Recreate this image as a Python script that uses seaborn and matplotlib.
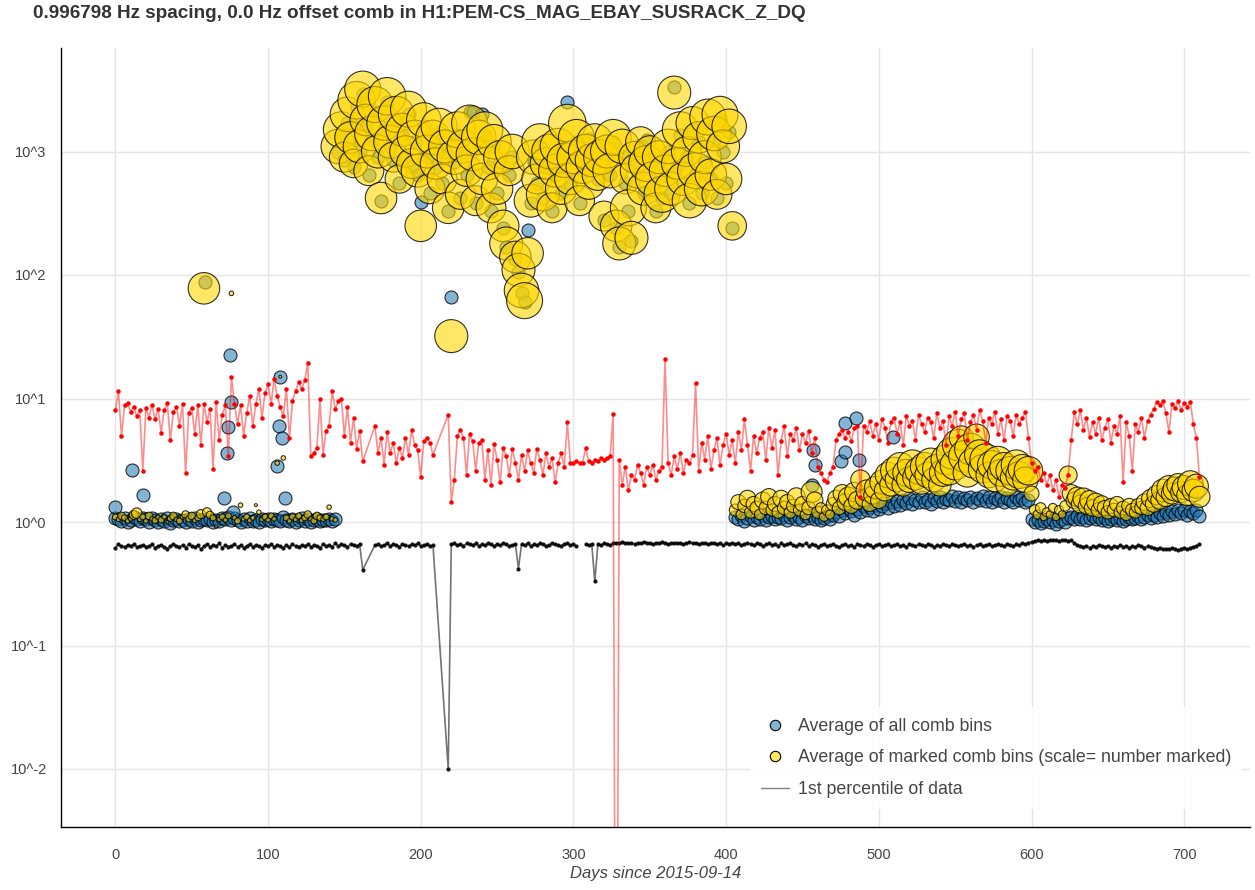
import matplotlib
matplotlib.use("Agg")
import matplotlib.pyplot as plt
import numpy as np
import pandas as pd
import seaborn as sns
from matplotlib.lines import Line2D
from matplotlib.ticker import FixedLocator, FuncFormatter, MultipleLocator
from matplotlib.colors import to_rgba

# ---------------- text ----------------
TITLE = "0.996798 Hz spacing, 0.0 Hz offset comb in H1:PEM-CS_MAG_EBAY_SUSRACK_Z_DQ"
X_LABEL = "Days since 2015-09-14"
LEGEND_LABELS = ["Average of all comb bins",
                 "Average of marked comb bins (scale= number marked)",
                 "1st percentile of data"]
X_TICKS = [0, 100, 200, 300, 400, 500, 600, 700]
Y_TICK_EXPONENTS = [-2, -1, 0, 1, 2, 3]

# ---------------- comb data (one point every 2 days) ----------------
comb_days = list(range(0, 712, 2))

blue_vals = [
    # days 0-144
    1.08, 1.05, 1.02, 1.08, 1.00, 1.04, 1.10, 1.06, 1.02, 1.07,
    1.05, 1.00, 1.07, 1.03, 1.00, 1.05, 1.02, 1.08, 0.99, 1.04,
    1.06, 1.01, 1.03, 1.00, 1.05, 1.02, 1.07, 1.00, 1.04, 1.06,
    1.03, 1.06, 1.00, 1.04, 1.02, 1.08, 1.05, 1.10, 1.04, 1.08,
    1.03, 1.00, 1.05, 1.02, 1.07, 1.01, 1.04, 1.00, 1.06, 1.03,
    1.05, 1.01, 1.06, 1.04, 1.02, 1.09, 1.04, 1.02, 1.06, 1.00,
    1.04, 1.07, 1.02, 1.05, 1.00, 1.04, 1.06, 1.01, 1.04, 1.03,
    1.05, 1.02, 1.06,
    # days 146-404
    1000, 1300, 850, 1700, 1200, 750, 2300, 1000, 2900, 1600,
    650, 1250, 2100, 900, 400, 1500, 2500, 1100, 850, 1800,
    560, 1350, 900, 2000, 750, 1200, 650, 390, 1600, 900,
    460, 1200, 750, 1450, 560, 1000, 330, 66, 820, 1350,
    420, 1000, 650, 2100, 2100, 380, 1200, 2000, 1350, 750,
    330, 1100, 460, 820, 240, 170, 650, 900, 135, 105,
    72, 60, 230, 380, 820, 560, 1100, 420, 750, 900,
    330, 650, 1000, 460, 780, 2500, 560, 820, 1200, 380,
    700, 900, 1260, 780, 1100, 600, 820, 280, 900, 650,
    1200, 240, 170, 1000, 560, 330, 190, 820, 650, 1100,
    460, 1250, 900, 560, 330, 820, 420, 650, 1000, 460,
    3300, 750, 1350, 560, 900, 380, 1500, 650, 1200, 460,
    820, 1700, 600, 1250, 420, 1800, 1000, 560, 1450, 240,
    # days 406-710
    1.10, 1.05, 1.15, 1.02, 1.08, 1.12, 1.04, 1.10, 1.06, 1.14,
    1.03, 1.09, 1.12, 1.05, 1.10, 1.07, 1.13, 1.04, 1.09, 1.15,
    1.06, 1.10, 1.03, 1.12, 1.08, 1.14, 1.05, 1.10, 1.04, 1.08,
    1.12, 1.06, 1.15, 1.20, 1.12, 1.25, 1.18, 1.30, 1.22, 1.15,
    1.28, 1.20, 1.35, 1.25, 1.32, 1.22, 1.38, 1.28, 1.35, 1.42,
    1.30, 1.45, 1.36, 1.48, 1.38, 1.52, 1.42, 1.55, 1.40, 1.50,
    1.44, 1.58, 1.46, 1.52, 1.40, 1.56, 1.48, 1.60, 1.45, 1.54,
    1.50, 1.62, 1.48, 1.58, 1.44, 1.55, 1.50, 1.60, 1.46, 1.56,
    1.52, 1.62, 1.48, 1.58, 1.45, 1.55, 1.50, 1.60, 1.46, 1.56,
    1.52, 1.44, 1.58, 1.50, 1.55, 1.46, 1.52, 1.05, 1.00, 1.04,
    0.98, 1.02, 1.06, 1.00, 1.03, 0.97, 1.02, 1.05, 1.00, 1.08,
    1.10, 1.05, 1.12, 1.06, 1.10, 1.04, 1.08, 1.12, 1.06, 1.10,
    1.04, 1.08, 1.02, 1.06, 1.10, 1.04, 1.08, 1.02, 1.06, 1.10,
    1.05, 1.08, 1.12, 1.06, 1.10, 1.14, 1.08, 1.15, 1.10, 1.18,
    1.12, 1.20, 1.14, 1.22, 1.16, 1.25, 1.18, 1.24, 1.15, 1.22,
    1.18, 1.25, 1.12,
]

yellow_vals = [
    # days 0-144
    1.10, 1.05, 1.12, 1.08, 1.02, 1.06, 1.14, 1.18, 1.05, 1.10,
    1.02, 1.12, 1.06, 1.03, 1.09, 1.04, 1.10, 1.00, 1.07, 1.12,
    1.05, 1.02, 1.10, 1.15, 1.06, 1.12, 1.03, 1.08, 1.16, 78.0,
    1.20, 1.14, 1.08, 0.92, 1.05, 1.10, 1.04, 1.12, 71.0, 1.08,
    1.02, 1.37, 1.06, 1.10, 1.03, 1.08, 1.37, 1.20, 1.05, 1.10,
    1.04, 1.12, 1.06, 3.0, 15.0, 3.3, 1.08, 1.02, 1.10, 1.05,
    1.12, 1.03, 1.08, 1.15, 1.06, 1.02, 1.12, 1.08, 1.05, 1.10,
    1.32, 1.06, 1.04,
    # days 146-404
    1100, 1500, 900, 2000, 1300, 800, 2600, 1100, 3200, 1800,
    700, 1400, 2400, 1000, 420, 1700, 2800, 1200, 900, 2000,
    600, 1500, 1000, 2200, 800, 1300, 700, 250, 1800, 1000,
    500, 1300, 800, 1600, 600, 1100, 350, 32, 900, 1500,
    450, 1100, 700, 1700, 950, 400, 1300, 600, 1500, 800,
    350, 1200, 500, 900, 250, 180, 700, 1000, 140, 110,
    75, 62, 150, 400, 900, 600, 1200, 450, 800, 1000,
    350, 700, 1100, 500, 850, 1700, 600, 900, 1300, 400,
    750, 1000, 550, 850, 1200, 650, 900, 300, 1000, 700,
    1300, 250, 180, 1100, 600, 350, 200, 900, 700, 1200,
    500, 800, 1000, 600, 350, 900, 450, 700, 1100, 500,
    3000, 800, 1500, 600, 1000, 400, 1700, 700, 1300, 500,
    900, 1900, 650, 1400, 450, 2000, 1100, 600, 1600, 250,
    # days 406-710
    1.25, 1.45, 1.15, 1.35, 1.55, 1.2, 1.4, 1.3, 1.15, 1.5,
    1.3, 1.6, 1.25, 1.4, 1.2, 1.55, 1.3, 1.45, 1.2, 1.35,
    1.6, 1.25, 1.4, 1.15, 1.3, 1.75, 1.5, 1.2, 1.3, 1.1,
    1.25, 1.15, 1.4, 1.55, 1.3, 1.7, 1.45, 1.6, 1.35, 1.75,
    1.5, 2.2, 1.55, 1.8, 1.4, 1.65, 1.9, 1.5, 2.1, 1.8,
    2.4, 2.0, 2.6, 2.2, 2.8, 2.0, 2.5, 2.2, 2.9, 2.3,
    2.6, 2.1, 2.8, 2.4, 3.0, 2.2, 2.7, 2.0, 2.5, 3.2,
    2.6, 3.6, 2.9, 4.2, 4.8, 3.4, 2.5, 3.9, 3.0, 4.9,
    3.5, 2.7, 3.2, 2.4, 2.9, 2.2, 3.1, 2.5, 2.8, 2.0,
    2.6, 2.3, 2.9, 2.4, 2.7, 2.2, 2.6, 1.7, 1.25, 1.15,
    1.3, 1.1, 1.2, 1.15, 1.3, 1.1, 1.25, 1.15, 1.35, 2.4,
    1.7, 1.5, 1.6, 1.4, 1.55, 1.35, 1.5, 1.3, 1.45, 1.25,
    1.4, 1.3, 1.2, 1.35, 1.25, 1.4, 1.2, 1.3, 1.15, 1.35,
    1.25, 1.2, 1.35, 1.3, 1.45, 1.3, 1.55, 1.4, 1.65, 1.5,
    1.8, 1.6, 1.9, 1.7, 1.85, 2.0, 1.75, 1.9, 1.65, 2.05,
    1.8, 1.95, 1.6,
]

yellow_n = [  # number of marked bins (sets the circle size)
    # days 0-144
    4, 3, 5, 4, 3, 3, 6, 7, 3, 4,
    3, 5, 3, 4, 3, 4, 3, 2, 4, 5,
    3, 4, 3, 5, 4, 5, 3, 4, 6, 21,
    6, 5, 4, 2, 3, 4, 3, 4, 3, 3,
    4, 3, 3, 4, 3, 3, 2, 3, 3, 4,
    3, 4, 3, 3, 2, 3, 4, 3, 4, 3,
    4, 3, 4, 5, 3, 4, 5, 4, 3, 4,
    3, 3, 3,
    # days 146-404
    23, 24, 20, 23, 21, 19, 25, 22, 24, 21,
    20, 23, 24, 22, 21, 23, 25, 22, 20, 24,
    19, 22, 21, 24, 20, 23, 22, 21, 23, 22,
    20, 23, 21, 24, 20, 22, 21, 22, 23, 24,
    20, 22, 21, 24, 22, 20, 23, 21, 24, 22,
    20, 23, 21, 22, 21, 22, 20, 23, 21, 22,
    23, 24, 21, 22, 23, 20, 24, 22, 21, 23,
    20, 22, 24, 21, 23, 25, 21, 22, 24, 20,
    22, 23, 21, 22, 24, 21, 23, 20, 22, 23,
    24, 21, 22, 23, 20, 24, 22, 21, 23, 20,
    22, 24, 21, 23, 20, 22, 24, 21, 23, 22,
    22, 21, 24, 22, 20, 23, 22, 24, 21, 23,
    22, 24, 21, 23, 20, 24, 22, 21, 23, 19,
    # days 406-710
    8, 10, 7, 9, 11, 8, 10, 9, 7, 11,
    9, 11, 8, 10, 8, 11, 9, 10, 8, 9,
    12, 8, 10, 7, 9, 14, 11, 8, 7, 6,
    7, 6, 9, 11, 9, 12, 11, 13, 10, 13,
    12, 13, 11, 14, 10, 12, 15, 11, 16, 14,
    17, 15, 18, 16, 19, 15, 18, 17, 20, 17,
    18, 16, 19, 17, 20, 16, 19, 15, 18, 20,
    19, 21, 20, 21, 16, 21, 19, 21, 20, 17,
    20, 19, 21, 17, 19, 16, 20, 18, 19, 15,
    19, 17, 20, 18, 19, 17, 19, 10, 7, 6,
    7, 5, 6, 5, 6, 5, 6, 5, 7, 12,
    12, 11, 13, 12, 14, 11, 13, 11, 12, 10,
    11, 10, 9, 10, 9, 10, 8, 9, 8, 10,
    9, 8, 10, 9, 11, 10, 12, 11, 13, 12,
    15, 13, 16, 14, 16, 15, 14, 16, 14, 17,
    15, 16, 14,
]

# extra (outlying) "all comb bins" averages
blue_extra_days = [0, 11, 18, 59, 71, 73, 74, 75, 76, 77, 106, 107, 108, 109, 111,
                   456, 457, 458, 475, 478, 478, 485, 487, 509]
blue_extra_vals = [1.32, 2.65, 1.65, 88.0, 1.57, 3.6, 5.9, 22.5, 9.4, 1.2, 2.85, 6.0, 15.0, 4.8, 1.57,
                   2.0, 3.8, 2.9, 3.1, 3.7, 6.3, 7.0, 3.2, 4.9]

# ---------------- red trace ----------------
red_days = (list(range(0, 164, 2)) + list(range(170, 210, 2)) + [218]
            + list(range(220, 712, 2)))
red_vals = [
    8.0, 11.5, 5.0, 8.8, 9.2, 7.8, 8.6, 7.2, 8.0, 2.6,
    8.4, 7.0, 8.9, 6.8, 8.2, 5.3, 8.0, 9.2, 4.6, 7.8,
    8.6, 6.0, 9.0, 2.5, 7.6, 8.4, 5.2, 8.8, 4.2, 9.0,
    6.5, 8.2, 2.7, 9.4, 4.6, 7.4, 8.8, 3.4, 15.0, 9.0,
    6.2, 8.8, 5.0, 7.6, 10.5, 6.0, 9.0, 12.0, 7.0, 11.0,
    13.0, 9.0, 14.5, 10.5, 8.5, 7.2, 12.0, 4.8, 9.5, 11.5,
    13.5, 12.0, 14.0, 19.5, 3.4, 3.6, 4.0, 10.0, 3.5, 5.5,
    6.0, 11.5, 8.2, 9.5, 10.0, 5.0, 8.5, 4.4, 7.0, 3.9,
    5.5, 3.1,
    6.0, 3.6, 4.8, 2.9, 5.4, 3.6, 4.4, 3.0, 4.0, 3.3,
    4.8, 3.5, 5.6, 4.2, 3.8, 2.3, 4.5, 4.8, 4.4, 3.5,
    7.4,
    1.45, 2.2, 5.0, 5.6, 4.8, 2.4, 5.2, 4.5, 2.6, 4.4,
    4.6, 2.2, 3.8, 2.0, 4.3, 3.2, 2.1, 4.0, 3.4, 2.4,
    3.9, 3.0, 2.2, 3.5, 2.6, 3.8, 3.0, 2.5, 3.9, 3.2,
    2.4, 3.6, 2.8, 3.3, 2.1, 3.0, 3.6, 2.8, 6.4, 3.0,
    3.0, 3.1, 3.0, 3.0, 4.0, 3.1, 3.0, 3.2, 3.1, 3.3,
    3.2, 3.3, 3.4, 7.5, 1e-6, 3.2, 2.0, 2.8, 1.8, 2.4,
    2.2, 2.9, 2.5, 2.0, 2.8, 2.4, 2.9, 2.2, 2.6, 2.8,
    21.0, 3.0, 2.4, 3.4, 2.7, 3.6, 2.5, 3.2, 3.0, 3.5,
    13.3, 2.6, 4.4, 3.2, 5.0, 2.7, 3.8, 4.8, 2.9, 4.2,
    5.2, 3.5, 4.6, 3.0, 5.4, 3.8, 6.8, 4.2, 2.6, 5.0,
    3.6, 4.8, 5.4, 3.2, 5.8, 4.0, 5.6, 2.4, 4.5, 6.0,
    3.4, 5.2, 4.6, 5.8, 3.8, 5.2, 4.4, 5.5, 3.6, 4.8,
    2.8, 2.5, 2.2, 2.1, 2.5, 2.8, 4.6, 5.2, 5.6, 4.8,
    5.4, 4.5, 5.8, 6.0, 1.6, 6.0, 5.4, 6.6, 5.0, 6.2,
    4.6, 6.8, 5.8, 4.4, 6.5, 7.0, 5.2, 6.4, 4.2, 7.2,
    6.0, 6.6, 4.6, 7.4, 6.2, 5.4, 7.0, 6.4, 4.8, 7.6,
    5.8, 6.6, 4.2, 7.2, 6.0, 7.8, 5.0, 6.8, 7.6, 4.6,
    6.4, 7.4, 5.6, 8.0, 6.6, 4.4, 7.0, 6.2, 7.8, 5.2,
    6.8, 4.6, 7.2, 6.6, 5.0, 7.4, 6.2, 7.0, 7.8, 4.8,
    3.0, 2.6, 2.8, 2.2, 2.5, 2.0, 2.4, 1.8, 2.2, 1.6,
    2.0, 1.9, 2.4, 4.6, 7.8, 6.2, 8.0, 5.6, 7.0, 4.9,
    6.4, 5.2, 7.0, 4.6, 5.8, 6.8, 4.4, 6.0, 5.2, 7.2,
    2.1, 6.4, 5.0, 2.6, 6.2, 5.4, 7.0, 4.8, 6.6, 7.4,
    8.2, 9.4, 8.8, 9.6, 7.6, 5.4, 9.0, 8.4, 9.5, 8.0,
    9.2, 8.6, 9.4, 6.2, 4.8, 2.3,
]

# ---------------- 1st percentile trace ----------------
black_days = (list(range(0, 164, 2)) + list(range(170, 210, 2)) + [218]
              + list(range(220, 304, 2)) + list(range(308, 712, 2)))
black_break_after = 302   # no data between 302 and 308
black_vals = [
    0.62, 0.66, 0.64, 0.63, 0.65, 0.64, 0.66, 0.63, 0.64, 0.65,
    0.63, 0.64, 0.66, 0.62, 0.64, 0.65, 0.63, 0.61, 0.64, 0.66,
    0.64, 0.63, 0.65, 0.62, 0.66, 0.64, 0.63, 0.65, 0.60, 0.64,
    0.66, 0.63, 0.65, 0.64, 0.67, 0.62, 0.65, 0.63, 0.64, 0.66,
    0.63, 0.65, 0.62, 0.64, 0.66, 0.63, 0.65, 0.64, 0.62, 0.65,
    0.64, 0.66, 0.63, 0.65, 0.64, 0.62, 0.65, 0.63, 0.66, 0.64,
    0.63, 0.65, 0.64, 0.66, 0.63, 0.65, 0.64, 0.62, 0.66, 0.64,
    0.65, 0.63, 0.67, 0.64, 0.66, 0.65, 0.63, 0.66, 0.65, 0.64,
    0.66, 0.41,
    0.65, 0.66, 0.64, 0.65, 0.67, 0.64, 0.66, 0.65, 0.63, 0.66,
    0.65, 0.64, 0.66, 0.65, 0.67, 0.64, 0.65, 0.66, 0.64, 0.65,
    0.01,
    0.66, 0.67, 0.65, 0.66, 0.64, 0.67, 0.66, 0.65, 0.67, 0.64,
    0.66, 0.65, 0.67, 0.66, 0.64, 0.66, 0.65, 0.67, 0.66, 0.64,
    0.65, 0.66, 0.42, 0.66, 0.65, 0.67, 0.64, 0.66, 0.65, 0.67,
    0.66, 0.64, 0.65, 0.67, 0.66, 0.65, 0.64, 0.66, 0.67, 0.65,
    0.66, 0.64,
    0.66, 0.65, 0.66, 0.33, 0.66, 0.65, 0.67, 0.66, 0.65, 0.67,
    0.68, 0.67, 0.69, 0.68, 0.67, 0.68, 0.66, 0.68, 0.67, 0.69,
    0.68, 0.67, 0.66, 0.68, 0.67, 0.69, 0.68, 0.66, 0.67, 0.68,
    0.67, 0.68, 0.66, 0.67, 0.69, 0.67, 0.68, 0.66, 0.67, 0.68,
    0.66, 0.67, 0.68, 0.66, 0.67, 0.65, 0.67, 0.66, 0.68, 0.66,
    0.67, 0.65, 0.66, 0.68, 0.66, 0.65, 0.67, 0.66, 0.64, 0.66,
    0.67, 0.65, 0.66, 0.64, 0.67, 0.65, 0.66, 0.67, 0.65, 0.64,
    0.66, 0.65, 0.67, 0.64, 0.66, 0.65, 0.63, 0.65, 0.66, 0.64,
    0.65, 0.66, 0.64, 0.63, 0.65, 0.66, 0.64, 0.65, 0.63, 0.66,
    0.65, 0.64, 0.66, 0.65, 0.63, 0.65, 0.66, 0.64, 0.65, 0.66,
    0.64, 0.65, 0.66, 0.64, 0.65, 0.63, 0.66, 0.65, 0.64, 0.66,
    0.65, 0.64, 0.66, 0.65, 0.63, 0.65, 0.64, 0.66, 0.65, 0.64,
    0.66, 0.65, 0.64, 0.65, 0.66, 0.64, 0.65, 0.63, 0.65, 0.66,
    0.64, 0.65, 0.66, 0.64, 0.65, 0.66, 0.65, 0.64, 0.66, 0.65,
    0.64, 0.66, 0.65, 0.67, 0.66, 0.68, 0.69, 0.70, 0.71, 0.70,
    0.71, 0.70, 0.71, 0.72, 0.71, 0.70, 0.71, 0.72, 0.70, 0.71,
    0.68, 0.65, 0.64, 0.63, 0.64, 0.62, 0.64, 0.63, 0.65, 0.64,
    0.63, 0.64, 0.62, 0.64, 0.63, 0.65, 0.63, 0.64, 0.62, 0.64,
    0.63, 0.65, 0.64, 0.62, 0.64, 0.63, 0.62, 0.61, 0.62, 0.60,
    0.61, 0.60, 0.62, 0.61, 0.59, 0.61, 0.62, 0.60, 0.62, 0.63,
    0.64, 0.66,
]

assert len(blue_vals) == len(comb_days), len(blue_vals)
assert len(yellow_vals) == len(comb_days), len(yellow_vals)
assert len(yellow_n) == len(comb_days), len(yellow_n)
assert len(red_vals) == len(red_days), (len(red_vals), len(red_days))
assert len(black_vals) == len(black_days), (len(black_vals), len(black_days))

# ---------------- styling ----------------
BLUE = "#1f77b4"
GOLD = "#FFD700"
TXT = "#444444"
DPI = 100
PX = 72.0 / DPI  # points per pixel

sns.set_style("white")
plt.rcParams['font.family'] = ['Liberation Sans', 'DejaVu Sans']

fig = plt.figure(figsize=(12.55, 8.9), dpi=DPI)
ax = fig.add_axes([61 / 1255, 63 / 890, 1189 / 1255, 779 / 890])
ax.set_yscale("log")

blue_df = pd.DataFrame({"day": comb_days + blue_extra_days,
                        "val": blue_vals + blue_extra_vals})
yel_df = pd.DataFrame({"day": comb_days, "val": yellow_vals, "n": yellow_n})
yel_df = yel_df[yel_df["n"] > 0]
red_df = pd.DataFrame({"day": red_days, "val": red_vals})
blk_df = pd.DataFrame({"day": black_days, "val": black_vals})
blk_df["seg"] = (blk_df["day"] > black_break_after).astype(int)

# 1st percentile line
sns.lineplot(data=blk_df, x="day", y="val", units="seg", estimator=None, sort=False,
             color="black", alpha=0.55, lw=1.2, ax=ax, legend=False, zorder=2)
sns.scatterplot(data=blk_df, x="day", y="val", s=(4.2 * PX) ** 2, color="black",
                linewidth=0, ax=ax, legend=False, zorder=2)
ax.collections[-1].set_alpha(0.9)

# all comb bins
blue_d = 13.0  # px
sns.scatterplot(data=blue_df, x="day", y="val", s=(blue_d * PX) ** 2, ax=ax,
                legend=False, zorder=3)
c = ax.collections[-1]
c.set_facecolor(to_rgba(BLUE, 0.55))
c.set_edgecolor((0, 0, 0, 0.8))
c.set_linewidth(0.8)

# marked comb bins, size ~ number marked
sizes = ((1.5 * yel_df["n"].to_numpy()) * PX) ** 2
sns.scatterplot(x=yel_df["day"].to_numpy(), y=yel_df["val"].to_numpy(), s=sizes, ax=ax,
                legend=False, zorder=4)
c = ax.collections[-1]
c.set_facecolor(to_rgba(GOLD, 0.6))
c.set_edgecolor((0, 0, 0, 0.8))
c.set_linewidth(0.8)

# red trace on top
sns.lineplot(data=red_df, x="day", y="val", estimator=None, sort=False,
             color="red", alpha=0.45, lw=1.2, ax=ax, legend=False, zorder=5)
sns.scatterplot(data=red_df, x="day", y="val", s=(4.5 * PX) ** 2, color="red",
                linewidth=0, ax=ax, legend=False, zorder=5)

# ---------------- axes ----------------
ax.set_xlim(-35.6, 743.1)
ax.set_ylim(10 ** ((522 - 827) / 123.5), 10 ** ((522 - 48) / 123.5))

ax.xaxis.set_major_locator(FixedLocator(X_TICKS))
ax.xaxis.set_minor_locator(MultipleLocator(20))
ax.yaxis.set_major_locator(FixedLocator([10.0 ** e for e in Y_TICK_EXPONENTS]))
ax.yaxis.set_minor_locator(FixedLocator([m * 10.0 ** e for e in range(-3, 4) for m in range(2, 10)]))
ax.yaxis.set_major_formatter(FuncFormatter(lambda v, p: "10^%d" % int(round(np.log10(v)))))
ax.xaxis.set_major_formatter(FuncFormatter(lambda v, p: "%d" % v))

ax.grid(True, which="major", color="#e5e5e5", lw=1.0)
ax.set_axisbelow(True)
for s in ["top", "right"]:
    ax.spines[s].set_visible(False)
for s in ["left", "bottom"]:
    ax.spines[s].set_color("black")
    ax.spines[s].set_linewidth(1.0)

ax.tick_params(axis="both", which="major", direction="out", length=6 * PX, width=1.0,
               color="black", labelcolor=TXT, labelsize=10.5)
ax.tick_params(axis="both", which="minor", direction="out", length=4 * PX, width=1.0,
               color="black")
ax.tick_params(axis="x", which="major", pad=11)
ax.tick_params(axis="y", which="major", pad=6)

ax.set_xlabel(X_LABEL, fontsize=12, fontstyle="italic", color=TXT, labelpad=3)
ax.set_ylabel("")

fig.text(33 / 1255, 1 - 14 / 890, TITLE, fontsize=13.6, fontweight="bold",
         color="#333333", ha="left", va="center")

# ---------------- legend ----------------
handles = [
    Line2D([], [], marker="o", linestyle="none", markersize=7.5,
           markerfacecolor=to_rgba(BLUE, 0.55), markeredgecolor="black", markeredgewidth=0.8),
    Line2D([], [], marker="o", linestyle="none", markersize=7.5,
           markerfacecolor=to_rgba(GOLD, 0.6), markeredgecolor="black", markeredgewidth=0.8),
    Line2D([], [], color="black", alpha=0.5, lw=1.0),
]
leg = ax.legend(handles, LEGEND_LABELS, loc="center",
                bbox_to_anchor=(996 / 1255, 1 - 758 / 890), bbox_transform=fig.transFigure,
                fontsize=12.8, frameon=True, facecolor="white", edgecolor="none",
                framealpha=0.9, fancybox=False, handlelength=1.6, handletextpad=0.5,
                labelspacing=0.82, borderpad=0.6)
for t in leg.get_texts():
    t.set_color(TXT)
leg.set_zorder(10)

fig.savefig("out.png", dpi=DPI)
